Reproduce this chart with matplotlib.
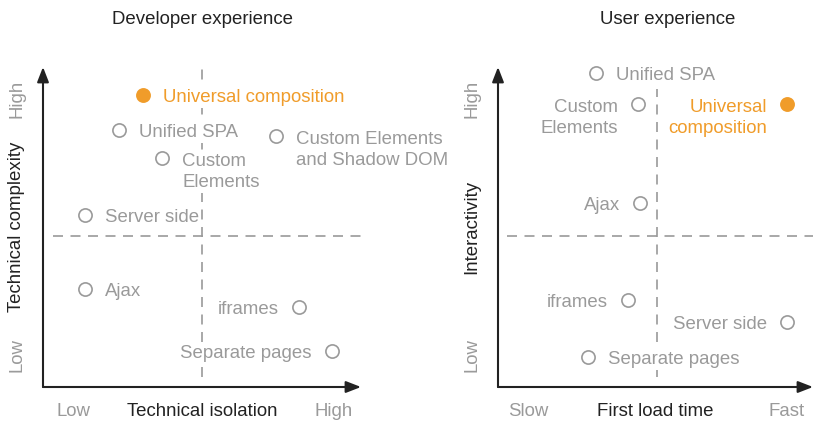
import matplotlib.pyplot as plt

plt.rcParams['font.family'] = ['Liberation Sans', 'DejaVu Sans']

GREY = '#9a9a9a'
ORANGE = '#f09c2a'
DARK = '#222222'
FS = 13.4
LINE_PT = 15.84  # distance between two label lines, in points

# developer experience: x = technical isolation, y = technical complexity
dev_labels = ['Universal composition', 'Unified SPA', 'Custom\nElements',
              'Custom Elements\nand Shadow DOM', 'Server side', 'Ajax',
              'iframes', 'Separate pages']
dev_x = [3.14, 2.39, 3.74, 7.33, 1.32, 1.32, 8.05, 9.09]
dev_y = [9.12, 8.03, 7.16, 7.84, 5.38, 3.06, 2.50, 1.13]
dev_side = ['right', 'right', 'right', 'right', 'right', 'right', 'left', 'left']

# user experience: x = first load time, y = interactivity
ux_labels = ['Unified SPA', 'Custom\nElements', 'Universal\ncomposition', 'Ajax',
             'iframes', 'Server side', 'Separate pages']
ux_x = [3.11, 4.44, 9.17, 4.51, 4.13, 9.17, 2.86]
ux_y = [9.81, 8.84, 8.84, 5.75, 2.72, 2.03, 0.94]
ux_side = ['right', 'left', 'left', 'left', 'left', 'left', 'right']

highlight = 'Universal'


def quadrant(ax, labels, xs, ys, sides, mid_x, mid_y, top_y, xlab, ylab, xlow, xhigh):
    ax.set_xlim(0, 10)
    ax.set_ylim(0, 10)
    for s in ax.spines.values():
        s.set_visible(False)
    ax.set_xticks([])
    ax.set_yticks([])

    # axes with arrows
    arrow = dict(arrowstyle='-|>,head_length=0.9,head_width=0.35',
                 color=DARK, lw=1.5, shrinkA=0, shrinkB=0)
    ax.annotate('', xy=(1.0, 0), xytext=(0, 0), xycoords='axes fraction', arrowprops=arrow)
    ax.annotate('', xy=(0, 1.0), xytext=(0, 0), xycoords='axes fraction', arrowprops=arrow)

    ax.plot([mid_x, mid_x], [0.3, top_y], ls=(0, (6, 4.5)), color=GREY, lw=1.2, zorder=0,
            clip_on=False)
    ax.plot([0.3, 10.1], [mid_y, mid_y], ls=(0, (6, 4.5)), color=GREY, lw=1.2, zorder=0,
            clip_on=False)

    for lab, x, y, side in zip(labels, xs, ys, sides):
        hot = lab.startswith(highlight)
        col = ORANGE if hot else GREY
        ax.plot(x, y, 'o', ms=9.5, mfc=col if hot else 'white', mec=col,
                mew=1.2, clip_on=False, zorder=3)
        dx = 14.5 if side == 'right' else -14.5
        # baseline is the last line: lift so the first line sits beside the marker
        dy = -4.9 - LINE_PT * lab.count('\n')
        ax.annotate(lab, (x, y), xytext=(dx, dy), textcoords='offset points',
                    ha='left' if side == 'right' else 'right',
                    multialignment='left' if side == 'right' else 'right',
                    va='baseline', color=col, fontsize=FS, linespacing=1.32,
                    annotation_clip=False, zorder=2,
                    bbox=dict(fc='white', ec='none', pad=1.5))

    ax.text(0.5, -0.075, xlab, transform=ax.transAxes, ha='center', va='center',
            fontsize=FS, color=DARK)
    ax.text(0.095, -0.075, xlow, transform=ax.transAxes, ha='center', va='center',
            fontsize=FS, color=GREY)
    ax.text(0.915, -0.075, xhigh, transform=ax.transAxes, ha='center', va='center',
            fontsize=FS, color=GREY)
    ax.text(-0.082, 0.5, ylab, transform=ax.transAxes, ha='center', va='center',
            rotation=90, fontsize=FS, color=DARK)
    ax.text(-0.082, 0.9, 'High', transform=ax.transAxes, ha='center', va='center',
            rotation=90, fontsize=FS, color=GREY)
    ax.text(-0.082, 0.1, 'Low', transform=ax.transAxes, ha='center', va='center',
            rotation=90, fontsize=FS, color=GREY)


def main():
    fig = plt.figure(figsize=(8.13, 4.22), dpi=100)
    ax1 = fig.add_axes([43 / 813, 35 / 422, 318 / 813, 320 / 422])
    ax2 = fig.add_axes([498 / 813, 35 / 422, 315 / 813, 320 / 422])

    quadrant(ax1, dev_labels, dev_x, dev_y, dev_side, 5.0, 4.72, 10.1,
             'Technical isolation', 'Technical complexity', 'Low', 'High')
    quadrant(ax2, ux_labels, ux_x, ux_y, ux_side, 5.05, 4.72, 9.3,
             'First load time', 'Interactivity', 'Slow', 'Fast')

    fig.text(202 / 813, 1 - 19 / 422, 'Developer experience', ha='center', va='center',
             fontsize=FS, color=DARK)
    fig.text(668 / 813, 1 - 19 / 422, 'User experience', ha='center', va='center',
             fontsize=FS, color=DARK)

    fig.savefig('out.png', dpi=100)


if (__name__ == "__main__"):
    main()
